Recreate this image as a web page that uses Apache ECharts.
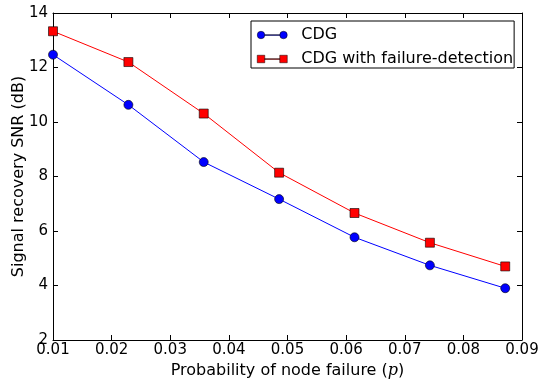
<!DOCTYPE html>
<html>
<head>
<meta charset="utf-8">
<script src="https://cdn.jsdelivr.net/npm/echarts@6/dist/echarts.min.js"></script>
<style>html,body{margin:0;padding:0;background:#fff;}#c{width:542px;height:380px;}</style>
</head>
<body>
<div id="c"></div>
<script>
var pValues = [0.01, 0.02286, 0.03571, 0.04857, 0.06143, 0.07429, 0.08714];
var cdg = [12.47, 10.63, 8.53, 7.17, 5.77, 4.74, 3.90];
var cdgFD = [13.33, 12.20, 10.31, 8.14, 6.66, 5.57, 4.70];
var seriesNames = ['CDG', 'CDG with failure-detection'];
var xTicks = [0.01, 0.02, 0.03, 0.04, 0.05, 0.06, 0.07, 0.08, 0.09];
var yTicks = [2, 4, 6, 8, 10, 12, 14];

function pairs(xs, ys) { return xs.map(function (x, i) { return [x, ys[i]]; }); }

var font = 'DejaVu Sans';
var chart = echarts.init(document.getElementById('c'), null, {renderer: 'canvas'});
var circlePath = 'path://M0,5 A5,5 0 1,1 10,5 A5,5 0 1,1 0,5 Z M10,4.5 L30,4.5 L30,5.5 L10,5.5 Z M30,5 A5,5 0 1,1 40,5 A5,5 0 1,1 30,5 Z';
var squarePath = 'path://M0,0 L10,0 L10,10 L0,10 Z M10,4.5 L30,4.5 L30,5.5 L10,5.5 Z M30,0 L40,0 L40,10 L30,10 Z';

var axisCommon = {
  type: 'value',
  axisLine: {show: true, lineStyle: {color: '#000', width: 1}},
  axisTick: {show: true, inside: true, length: 5, lineStyle: {color: '#000', width: 1}},
  splitLine: {show: false}
};

chart.setOption({
  animation: false,
  backgroundColor: '#fff',
  grid: {left: 53, right: 20, top: 13, bottom: 40, containLabel: false, outerBoundsMode: 'none'},
  legend: {
    left: 251, top: 21,
    orient: 'vertical',
    padding: [6, 1, 1, 6],
    itemWidth: 30, itemHeight: 9, itemGap: 8,
    borderColor: '#000', borderWidth: 1, borderRadius: 0,
    backgroundColor: '#fff',
    textStyle: {fontFamily: font, fontSize: 16, lineHeight: 16, color: '#000', padding: [0, 0, 0, 9]},
    itemStyle: {borderColor: '#000', borderWidth: 0.5},
    data: [{name: seriesNames[0], icon: circlePath}, {name: seriesNames[1], icon: squarePath}]
  },
  xAxis: [
    Object.assign({}, axisCommon, {
      position: 'bottom', min: xTicks[0], max: xTicks[xTicks.length - 1], interval: 0.01,
      axisLabel: {fontFamily: font, fontSize: 15, color: '#000', margin: 3,
        formatter: function (v) { return v.toFixed(2); }},
      name: 'Probability of node failure ({i|p})',
      nameLocation: 'middle', nameGap: 20,
      nameTextStyle: {fontFamily: font, fontSize: 16, color: '#000',
        rich: {i: {fontFamily: 'DejaVu Serif', fontStyle: 'italic', fontSize: 16, color: '#000'}}}
    }),
    Object.assign({}, axisCommon, {
      position: 'top', min: xTicks[0], max: xTicks[xTicks.length - 1], interval: 0.01,
      axisLabel: {show: false}
    })
  ],
  yAxis: [
    Object.assign({}, axisCommon, {
      position: 'left', min: yTicks[0], max: yTicks[yTicks.length - 1], interval: 2,
      axisLabel: {fontFamily: font, fontSize: 15, color: '#000', margin: 5},
      name: 'Signal recovery SNR (dB)',
      nameLocation: 'middle', nameGap: 26, nameRotate: 90, nameMoveOverlap: false,
      nameTextStyle: {fontFamily: font, fontSize: 16, color: '#000'}
    }),
    Object.assign({}, axisCommon, {
      position: 'right', min: yTicks[0], max: yTicks[yTicks.length - 1], interval: 2,
      axisLabel: {show: false}
    })
  ],
  series: [
    {
      name: seriesNames[0], type: 'line', data: pairs(pValues, cdg),
      symbol: 'circle', symbolSize: 9,
      lineStyle: {color: '#0000ff', width: 1},
      itemStyle: {color: '#0000ff', borderColor: '#000', borderWidth: 0.6},
      z: 3
    },
    {
      name: seriesNames[1], type: 'line', data: pairs(pValues, cdgFD),
      symbol: 'rect', symbolSize: 9,
      lineStyle: {color: '#ff0000', width: 1},
      itemStyle: {color: '#ff0000', borderColor: '#000', borderWidth: 0.6},
      z: 3
    }
  ]
});
</script>
</body>
</html>
